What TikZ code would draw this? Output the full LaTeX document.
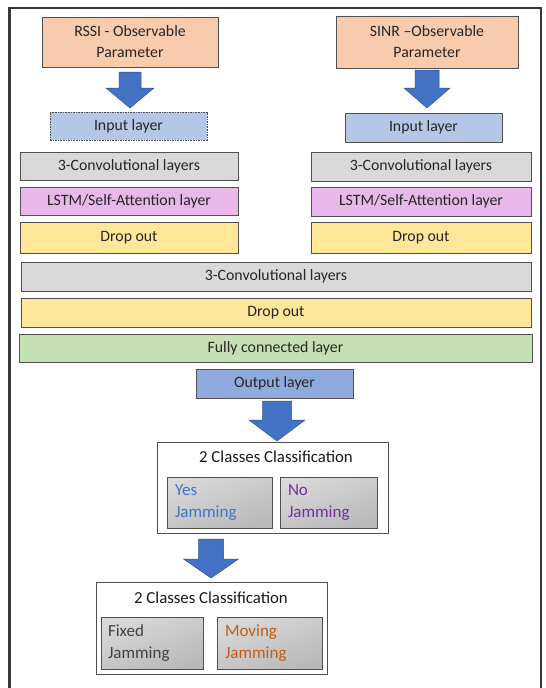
\documentclass[tikz,border=0pt]{standalone}
\usepackage{fontspec}
\setmainfont{Carlito}
\definecolor{peach}{HTML}{F8CBAD}
\definecolor{inblue}{HTML}{B4C7E7}
\definecolor{cgray}{HTML}{D9D9D9}
\definecolor{lav}{HTML}{E8B8EA}
\definecolor{ylw}{HTML}{FFE699}
\definecolor{grn}{HTML}{C5E0B4}
\definecolor{outblue}{HTML}{8FAADC}
\definecolor{arrblue}{HTML}{4472C4}
\definecolor{arrline}{HTML}{2F528F}
\definecolor{edge}{HTML}{505050}
\definecolor{yescol}{HTML}{4472C4}
\definecolor{nocol}{HTML}{7030A0}
\definecolor{fixcol}{HTML}{404040}
\definecolor{movcol}{HTML}{C55A11}
\tikzset{
  x=1pt, y=1pt,
  layer/.style={draw=edge, line width=0.7pt, inner sep=0pt, align=center,
    font=\fontsize{15.8}{21}\selectfont, text=black!85},
  clsbox/.style={draw=edge, line width=0.7pt, fill=white, inner sep=0pt},
  title/.style={font=\fontsize{16.8}{20}\selectfont, text=black!90, inner sep=0pt},
  choice/.style={draw=edge, line width=0.7pt, top color=gray!30, bottom color=gray!55,
    shading angle=20, inner sep=0pt, align=left,
    font=\fontsize{17}{22}\selectfont},
  blockarrow/.style={fill=arrblue, draw=arrline, line width=0.5pt}
}
\newcommand\mkarrow[6]{% tipx tipy top headstart shafthalf headhalf
  \fill[blockarrow] (#1-#5,#3) -- (#1+#5,#3) -- (#1+#5,#4) -- (#1+#6,#4) -- (#1,#2)
    -- (#1-#6,#4) -- (#1-#5,#4) -- cycle;}
\begin{document}
\begin{tikzpicture}
\useasboundingbox (0,0) rectangle (546,-688);
\fill[white] (0,0) rectangle (546,-688);
% frame
\draw[line width=2.6pt, color=black!78] (9.5,-688) -- (9.5,-8) -- (541,-8) -- (541,-688);

% top boxes
\node[layer, fill=peach, minimum width=176, minimum height=50] (rssi) at (130,-42) {RSSI - Observable\\Parameter};
\node[layer, fill=peach, minimum width=182, minimum height=52] (sinr) at (427,-42) {SINR --Observable\\Parameter};

\mkarrow{130}{-108}{-72}{-88}{11}{24}
\mkarrow{427}{-108}{-70}{-88}{12}{23}

\node[layer, fill=inblue, dash pattern=on 1.6pt off 1pt, minimum width=157, minimum height=28] (inL) at (128.5,-126) {Input layer};
\node[layer, fill=inblue, minimum width=157, minimum height=29] (inR) at (423.5,-127.5) {Input layer};

\node[layer, fill=cgray, minimum width=218, minimum height=28] (convL) at (129,-166) {3-Convolutional layers};
\node[layer, fill=lav, minimum width=218, minimum height=28] (lstmL) at (129,-201) {LSTM/Self-Attention layer};
\node[layer, fill=ylw, minimum width=218, minimum height=31] (dropL) at (129,-237.5) {Drop out};

\node[layer, fill=cgray, minimum width=220, minimum height=29] (convR) at (421,-166.5) {3-Convolutional layers};
\node[layer, fill=lav, minimum width=220, minimum height=29] (lstmR) at (421,-201.5) {LSTM/Self-Attention layer};
\node[layer, fill=ylw, minimum width=220, minimum height=31] (dropR) at (421,-237.5) {Drop out};

\node[layer, fill=cgray, minimum width=510, minimum height=29] (conv) at (276,-276.5) {3-Convolutional layers};
\node[layer, fill=ylw, minimum width=510, minimum height=29] (drop) at (276,-312.5) {Drop out};
\node[layer, fill=grn, minimum width=513, minimum height=28] (fc) at (275.5,-348) {Fully connected layer};
\node[layer, fill=outblue, minimum width=157, minimum height=29] (out) at (274.5,-383.5) {Output layer};

\mkarrow{277}{-441}{-401}{-420}{14.5}{28}

% first classification
\node[clsbox, minimum width=231, minimum height=91] (cls1) at (272.5,-487.5) {};
\node[title] (t1) at (276,-457) {2 Classes Classification};
\node[choice, minimum width=105, minimum height=51, text width=89, text=yescol] (yes) at (219.5,-502.5) {Yes\\Jamming};
\node[choice, minimum width=97, minimum height=51, text width=81, text=nocol] (no) at (328.5,-502.5) {No\\Jamming};

\mkarrow{211}{-578}{-539}{-559}{12.5}{27.5}

% second classification
\node[clsbox, minimum width=231, minimum height=92] (cls2) at (211.5,-628) {};
\node[title] (t2) at (211,-598) {2 Classes Classification};
\node[choice, minimum width=102, minimum height=52, text width=88, text=fixcol] (fixed) at (152,-643) {Fixed\\Jamming};
\node[choice, minimum width=105, minimum height=52, text width=89, text=movcol] (moving) at (269.5,-643) {Moving\\Jamming};
\end{tikzpicture}
\end{document}
